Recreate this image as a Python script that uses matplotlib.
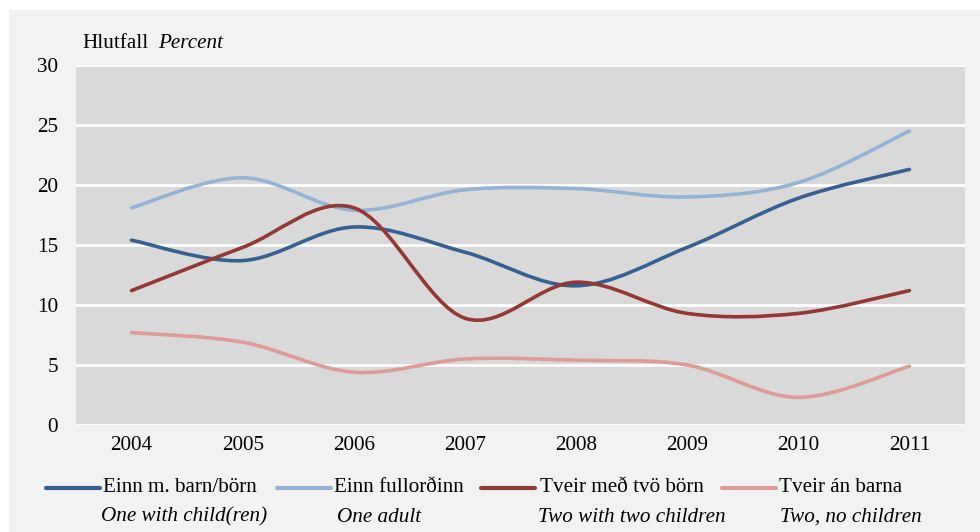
#!/usr/bin/env python3

import matplotlib
matplotlib.use('Agg')
import matplotlib.pyplot as plt
import numpy as np
from matplotlib.lines import Line2D
from matplotlib.patches import PathPatch, Rectangle
from matplotlib.path import Path

plt.rcParams['font.family'] = ['Liberation Serif', 'DejaVu Serif']

# data
years = ['2004', '2005', '2006', '2007', '2008', '2009', '2010', '2011']
one_with_children = [15.4, 13.7, 16.5, 14.4, 11.6, 14.8, 18.9, 21.3]
one_adult = [18.1, 20.6, 17.9, 19.6, 19.7, 19.0, 20.2, 24.5]
two_with_two = [11.2, 14.8, 18.1, 8.9, 11.9, 9.3, 9.3, 11.2]
two_no_children = [7.7, 6.9, 4.4, 5.5, 5.4, 5.0, 2.3, 4.9]

labels_is = ['Einn m. barn/börn', 'Einn fullorðinn',
             'Tveir með tvö börn', 'Tveir án barna']
labels_en = ['One with child(ren)', 'One adult',
             'Two with two children', 'Two, no children']
colors = ['#376092', '#95b3d7', '#953735', '#e09a97']

W, H = 980, 532
FS = 15.2
LW = 2.6


def smooth_path(xs, ys):
    # excel-like smoothed line: bezier segments with catmull-rom tangents
    pts = np.column_stack([xs, ys]).astype(float)
    ext = np.vstack([pts[0], pts, pts[-1]])
    verts = [pts[0]]
    codes = [Path.MOVETO]
    for i in range(len(pts) - 1):
        p0, p1, p2, p3 = ext[i], ext[i + 1], ext[i + 2], ext[i + 3]
        c1 = p1 + (p2 - p0) / 6.0
        c2 = p2 - (p3 - p1) / 6.0
        verts += [c1, c2, p2]
        codes += [Path.CURVE4] * 3
    return Path(verts, codes)


fig = plt.figure(figsize=(W / 100, H / 100), dpi=100)
fig.patch.set_facecolor('white')
fig.add_artist(Rectangle((9 / W, 0), 1 - 9 / W, 1 - 10 / H,
                         transform=fig.transFigure, facecolor='#f2f2f2',
                         edgecolor='none', zorder=-10))

ax = fig.add_axes([76 / W, 1 - 425 / H, 889 / W, 360 / H])
ax.set_facecolor('#d9d9d9')
for sp in ax.spines.values():
    sp.set_visible(False)

x = np.arange(len(years))
series = [one_with_children, one_adult, two_with_two, two_no_children]
for vals, c in zip(series, colors):
    ax.add_patch(PathPatch(smooth_path(x, vals), facecolor='none',
                           edgecolor=c, lw=LW, capstyle='round', zorder=3))

ax.set_xlim(-0.5, len(years) - 0.5)
ax.set_ylim(0, 30)
ax.set_yticks(range(0, 31, 5))
ax.set_xticks(x)
ax.set_xticklabels(years)
ax.yaxis.grid(True, color='white', lw=2)
ax.set_axisbelow(True)
ax.tick_params(length=0, labelsize=FS, colors='black')
ax.tick_params(axis='y', pad=13)
ax.tick_params(axis='x', pad=8)
for t in ax.get_yticklabels():
    t.set_verticalalignment('center_baseline')

fig.text(82 / W, 1 - 43 / H, 'Hlutfall', fontsize=FS, va='center')
fig.text(158 / W, 1 - 43 / H, 'Percent', fontsize=FS, style='italic',
         va='center')

# legend, two language rows
handle_x = [46, 277, 481, 722]
text_x = [103, 334, 540, 779]
en_x = [101, 337, 538, 780]
for hx, tx, ex, c, li, le in zip(handle_x, text_x, en_x, colors,
                                 labels_is, labels_en):
    fig.add_artist(Line2D([hx / W, (hx + 54) / W], [1 - 488 / H] * 2,
                          transform=fig.transFigure, color=c, lw=LW + 0.4,
                          solid_capstyle='round'))
    fig.text(tx / W, 1 - 488 / H, li, fontsize=FS, va='center')
    fig.text(ex / W, 1 - 517 / H, le, fontsize=FS, style='italic',
             va='center')

fig.savefig('out.png', dpi=100, facecolor=fig.get_facecolor())
